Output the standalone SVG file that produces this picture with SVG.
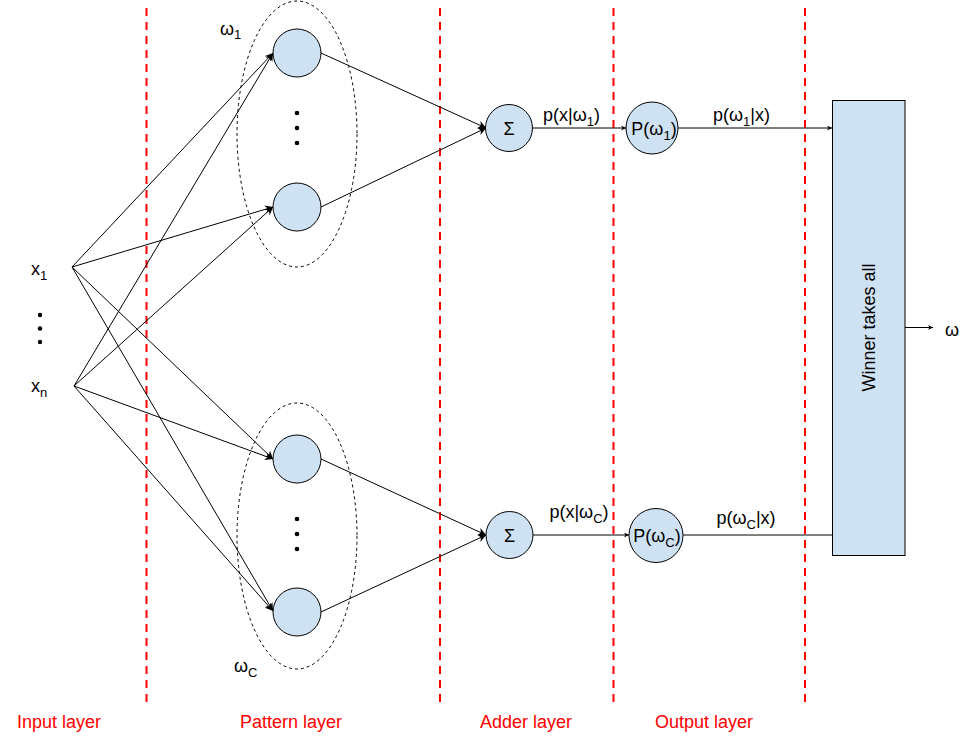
<svg xmlns="http://www.w3.org/2000/svg" width="977" height="756" viewBox="0 0 977 756">
<defs>
<style>
text{font-family:"Liberation Sans",Arial,sans-serif;font-size:18px;fill:#000}
.red{fill:#ff0000}
.sep{stroke:#ff0000;stroke-width:2;stroke-dasharray:8 6;fill:none}
.node{fill:#cfe2f3;stroke:#000;stroke-width:1}
.grp{fill:none;stroke:#000;stroke-width:1;stroke-dasharray:3 3}
.edge{stroke:#000;stroke-width:1;fill:none}
.a{marker-end:url(#arr)}
.s{marker-end:url(#sarr)}
</style>
<marker id="arr" viewBox="0 0 10 10" refX="10" refY="5" markerWidth="8" markerHeight="8" markerUnits="userSpaceOnUse" orient="auto">
<path d="M0,0 L10,5 L0,10 L3,5 z" fill="#000"/>
</marker>
<marker id="sarr" viewBox="0 0 10 10" refX="10" refY="5" markerWidth="5" markerHeight="5" markerUnits="userSpaceOnUse" orient="auto">
<path d="M0,0 L10,5 L0,10 L3,5 z" fill="#000"/>
</marker>
</defs>

<g id="separators">
<line class="sep" x1="146.5" y1="8" x2="146.5" y2="703"/>
<line class="sep" x1="440" y1="8" x2="440" y2="703"/>
<line class="sep" x1="613.5" y1="8" x2="613.5" y2="703"/>
<line class="sep" x1="805" y1="8" x2="805" y2="703"/>
</g>

<g id="layer-labels">
<text class="red" x="17" y="728">Input layer</text>
<text class="red" x="240" y="728">Pattern layer</text>
<text class="red" x="480" y="728">Adder layer</text>
<text class="red" x="655" y="728">Output layer</text>
</g>

<g id="group-top">
<ellipse class="grp" cx="297" cy="134" rx="60" ry="133"/>
<text x="220" y="35">ω<tspan font-size="13" dy="4">1</tspan></text>
</g>
<g id="group-bottom">
<ellipse class="grp" cx="297" cy="536" rx="60" ry="133"/>
<text x="234" y="672">ω<tspan font-size="13" dy="5">C</tspan></text>
</g>

<g id="connectors">
<line class="edge a" x1="72" y1="267" x2="273" y2="53"/>
<line class="edge a" x1="72" y1="267" x2="273" y2="207"/>
<line class="edge a" x1="72" y1="267" x2="273" y2="459"/>
<line class="edge a" x1="72" y1="267" x2="273" y2="611"/>
<line class="edge a" x1="74" y1="386" x2="273" y2="53"/>
<line class="edge a" x1="74" y1="386" x2="273" y2="207"/>
<line class="edge a" x1="74" y1="386" x2="273" y2="459"/>
<line class="edge a" x1="74" y1="386" x2="273" y2="611"/>
<line class="edge a" x1="321" y1="53" x2="486" y2="128"/>
<line class="edge a" x1="321" y1="207" x2="486" y2="128"/>
<line class="edge a" x1="321" y1="459" x2="486" y2="535"/>
<line class="edge a" x1="321" y1="612" x2="486" y2="535"/>
<line class="edge s" x1="532" y1="128" x2="626" y2="128"/>
<line class="edge s" x1="533" y1="535" x2="629" y2="535"/>
<line class="edge s" x1="678" y1="128" x2="832" y2="128"/>
<line class="edge" x1="683" y1="535" x2="832" y2="535"/>
<line class="edge s" x1="905" y1="327.5" x2="933" y2="327.5"/>
<text x="571.5" y="121" text-anchor="middle">p(x|ω<tspan font-size="13" dy="5">1</tspan><tspan dy="-5">)</tspan></text>
<text x="741.5" y="121" text-anchor="middle">p(ω<tspan font-size="13" dy="5">1</tspan><tspan dy="-5">|x)</tspan></text>
<text x="579" y="518" text-anchor="middle">p(x|ω<tspan font-size="13" dy="5">C</tspan><tspan dy="-5">)</tspan></text>
<text x="746" y="524" text-anchor="middle">p(ω<tspan font-size="13" dy="5">C</tspan><tspan dy="-5">|x)</tspan></text>
</g>

<g id="input-x1">
<text x="31" y="275">x<tspan font-size="13" dy="5">1</tspan></text>
</g>
<g id="input-dots">
<circle cx="40" cy="315" r="2.2"/>
<circle cx="40" cy="328.5" r="2.2"/>
<circle cx="40" cy="342" r="2.2"/>
</g>
<g id="input-xn">
<text x="31" y="392">x<tspan font-size="13" dy="5">n</tspan></text>
</g>

<g id="pattern-1"><circle class="node" cx="297" cy="53" r="24"/></g>
<g id="pattern-dots-top">
<circle cx="297" cy="113" r="2.3"/>
<circle cx="297" cy="128" r="2.3"/>
<circle cx="297" cy="143" r="2.3"/>
</g>
<g id="pattern-2"><circle class="node" cx="297" cy="207" r="24"/></g>
<g id="pattern-3"><circle class="node" cx="297" cy="459" r="24"/></g>
<g id="pattern-dots-bottom">
<circle cx="297" cy="519" r="2.3"/>
<circle cx="297" cy="534" r="2.3"/>
<circle cx="297" cy="549" r="2.3"/>
</g>
<g id="pattern-4"><circle class="node" cx="297" cy="612" r="24"/></g>

<g id="sum-1">
<circle class="node" cx="509" cy="128" r="23.5"/>
<text x="509" y="134.5" text-anchor="middle">Σ</text>
</g>
<g id="sum-2">
<circle class="node" cx="509.5" cy="535" r="23.5"/>
<text x="509.5" y="541.5" text-anchor="middle">Σ</text>
</g>

<g id="out-1">
<circle class="node" cx="652" cy="128" r="26"/>
<text x="654" y="134.5" text-anchor="middle">P(ω<tspan font-size="13" dy="5">1</tspan><tspan dy="-5">)</tspan></text>
</g>
<g id="out-2">
<circle class="node" cx="656" cy="535.5" r="27"/>
<text x="657" y="542" text-anchor="middle">P(ω<tspan font-size="13" dy="5">C</tspan><tspan dy="-5">)</tspan></text>
</g>

<g id="winner">
<rect class="node" x="832.5" y="100.5" width="72.5" height="455"/>
<text x="0" y="0" text-anchor="middle" transform="translate(875,327.5) rotate(-90)">Winner takes all</text>
</g>

<g id="output-omega">
<text x="945" y="336">ω</text>
</g>
</svg>
